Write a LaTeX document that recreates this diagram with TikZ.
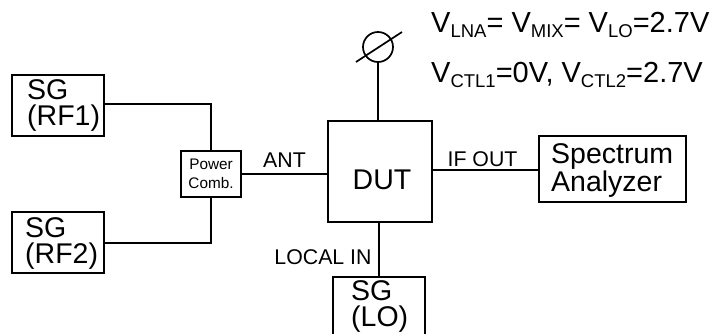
\documentclass[tikz,border=0pt]{standalone}
\usepackage{fontspec}
\setmainfont{Liberation Sans}
\usetikzlibrary{positioning}
\newcommand{\vsub}[1]{\raisebox{-5pt}{\fontsize{18.5}{18.5}\selectfont #1}}
\tikzset{
  box/.style={rectangle, draw=black, line width=1.7pt, inner sep=0pt},
  biglabel/.style={font=\fontsize{28.5}{26}\selectfont, align=left, inner sep=0pt},
  smalllabel/.style={font=\fontsize{21.3}{22}\selectfont, inner sep=0pt},
  volt/.style={font=\fontsize{29}{29}\selectfont, anchor=base west, inner sep=0pt},
  wire/.style={draw=black, line width=1.7pt}
}
\begin{document}
\begin{tikzpicture}[x=1pt, y=-1pt]
  \useasboundingbox (0,0) rectangle (713,334);
  % signal generators
  \node[box, minimum width=92pt, minimum height=61pt] (rf1) at (58,105.5) {};
  \node[box, minimum width=92pt, minimum height=61pt] (rf2) at (58,242.5) {};
  \node[box, minimum width=92pt, minimum height=64pt] (lo) at (379,309) {};
  \node[biglabel, anchor=west] (rf1text) at (27,106) {SG\\(RF1)};
  \node[biglabel, anchor=west] (rf2text) at (25,243) {SG\\(RF2)};
  \node[biglabel, anchor=west] (lotext) at (351,307) {SG\\(LO)};

  % combiner, device and analyzer
  \node[box, minimum width=60pt, minimum height=46pt, align=center,
    font=\fontsize{15.3}{18.5}\selectfont] (comb) at (211,174) {Power\\Comb.};
  \node[box, minimum width=104pt, minimum height=101pt] (dut) at (380,171.5) {};
  \node[biglabel, anchor=base] (duttext) at (382,190) {DUT};
  \node[box, minimum width=147pt, minimum height=66pt] (sa) at (612.5,169) {};
  \node[biglabel, anchor=west, font=\fontsize{28.5}{28}\selectfont] (satext) at (551,171) {Spectrum\\Analyzer};

  % meter
  \node[circle, draw=black, line width=1.7pt, minimum size=30pt, inner sep=0pt] (meter) at (378,47) {};
  \coordinate (slasha) at (356,62);
  \coordinate (slashb) at (402,32);
  \draw[wire] (slasha) -- (slashb);

  % connections
  \draw[wire] (rf1.east |- 0,104) -| (comb.north);
  \draw[wire] (rf2.east |- 0,243) -| (comb.south);
  \draw[wire] (comb.east) -- (dut.west |- comb.east);
  \draw[wire] (dut.east |- 0,170) -- (sa.west |- 0,170);
  \draw[wire] (meter.south) -- (dut.north -| meter.south);
  \draw[wire] (dut.south -| lo.north) -- (lo.north);

  \node[smalllabel, anchor=base] (ant) at (284.5,168) {ANT};
  \node[smalllabel, anchor=base] (ifout) at (482.5,167) {IF OUT};
  \node[smalllabel, anchor=base] (localin) at (323,265) {LOCAL IN};

  \node[volt] (vline) at (431,33) {V\vsub{LNA}= V\vsub{MIX}= V\vsub{LO}=2.7V};
  \node[volt] (vctl) at (431,83) {V\vsub{CTL1}=0V, V\vsub{CTL2}=2.7V};
\end{tikzpicture}
\end{document}
